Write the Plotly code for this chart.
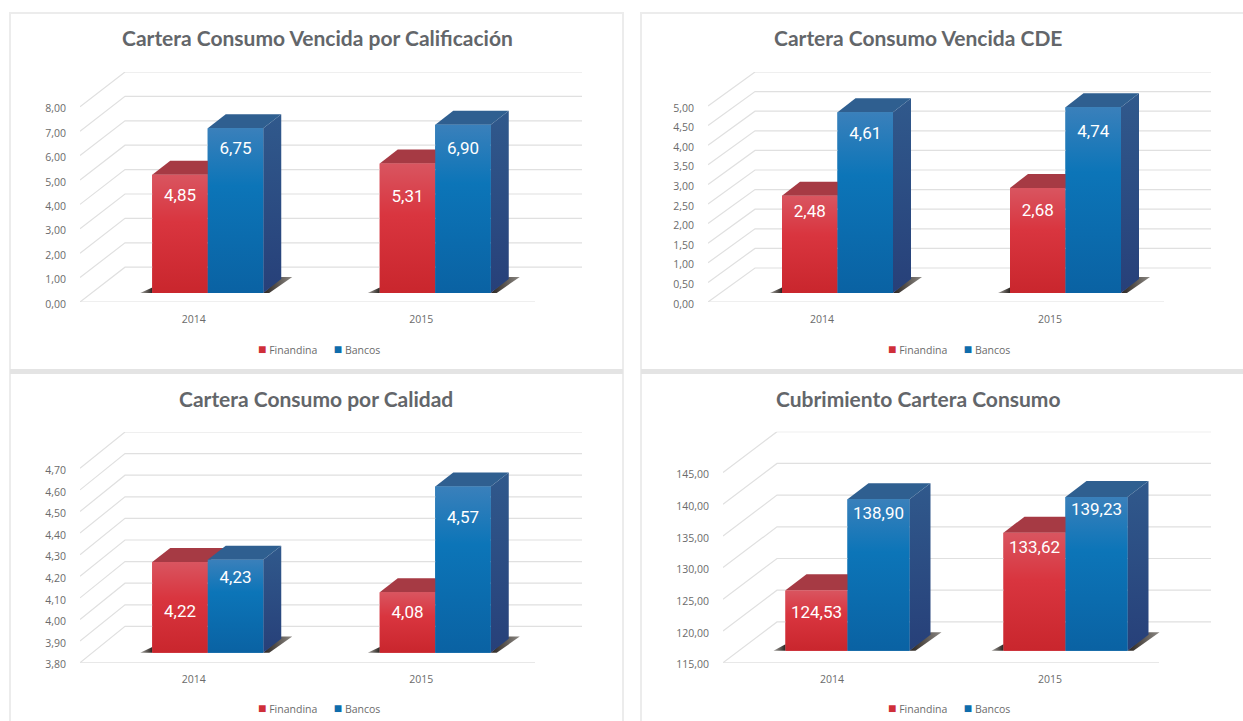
import plotly.graph_objects as go

W, H = 1243, 721

# ---- chart data ----
categories = ["2014", "2015"]
series_names = ["Finandina", "Bancos"]

titles = ["Cartera Consumo Vencida por Calificación", "Cartera Consumo Vencida CDE",
          "Cartera Consumo por Calidad", "Cubrimiento Cartera Consumo"]

finandina_calificacion = [4.85, 5.31]
bancos_calificacion = [6.75, 6.90]
finandina_cde = [2.48, 2.68]
bancos_cde = [4.61, 4.74]
finandina_calidad = [4.22, 4.08]
bancos_calidad = [4.23, 4.57]
finandina_cubrimiento = [124.53, 133.62]
bancos_cubrimiento = [138.90, 139.23]

ticks_calificacion = [0, 1, 2, 3, 4, 5, 6, 7, 8]
ticks_cde = [0, 0.5, 1, 1.5, 2, 2.5, 3, 3.5, 4, 4.5, 5]
ticks_calidad = [3.8, 3.9, 4.0, 4.1, 4.2, 4.3, 4.4, 4.5, 4.6, 4.7]
ticks_cubrimiento = [115, 120, 125, 130, 135, 140, 145]

# ---- layout / style (pixels of the page) ----
panels = [
    dict(fin=finandina_calificacion, ban=bancos_calificacion, ticks=ticks_calificacion,
         x0=80, x1=535, bx0=125, bx1=582, floor=302, top=72, px_per=24.4,
         base=9, bw=55.5, off=-41.5, dx=18, dy=14, title_x=317, title_y=38, legend_x=319, legend_y=348.5,
         lab=[[22, 34], [21, 25]]),
    dict(fin=finandina_cde, ban=bancos_cde, ticks=ticks_cde,
         x0=708, x1=1164, bx0=755, bx1=1211, floor=302, top=72, px_per=39.2,
         base=9, bw=55.5, off=-40, dx=18, dy=14, title_x=918, title_y=38, legend_x=949, legend_y=348.5,
         lab=[[17, 24], [22, 26]]),
    dict(fin=finandina_calidad, ban=bancos_calidad, ticks=ticks_calidad,
         x0=80, x1=535, bx0=125, bx1=582, floor=662.7, top=432, px_per=216.0,
         base=10, bw=55.5, off=-41.5, dx=18, dy=14, title_x=316, title_y=398, legend_x=319, legend_y=707.5,
         lab=[[51, 22], [19, 32]]),
    dict(fin=finandina_cubrimiento, ban=bancos_cubrimiento, ticks=ticks_cubrimiento,
         x0=723, x1=1159, bx0=777, bx1=1211, floor=662.7, top=431.7, px_per=6.34,
         base=12, bw=62, off=-46.5, dx=21, dy=16, title_x=918, title_y=398, legend_x=949, legend_y=707.5,
         lab=[[23, 16], [16, 14]]),
]

GRID = "#e0e0e0"
TEXT = "#6b6b6b"
TITLE = "#63666a"
FRAME = "#ececec"
DIVIDER = "#e4e4e4"
RED, BLUE = "#cf2e39", "#0f6cab"
RED_GRAD = [[0, "#c9262d"], [0.6, "#d9353f"], [1, "#d95560"]]
BLUE_GRAD = [[0, "#0a62a3"], [0.65, "#0c75b8"], [1, "#3a80bb"]]
RED_TOP, BLUE_TOP = "#a63a44", "#2f5f90"
SIDE_GRAD = [[0, "#274079"], [1, "#30598c"]]
SHADOW_GRAD = [[0, "#2a2420"], [1, "#8d8984"]]


def px_x(v):
    return v / W


def px_y(v):
    return 1 - v / H


fig = go.Figure()
shapes, annotations = [], []
layout_axes = {}


def poly(xs, ys, xa, ya, **kw):
    fig.add_trace(go.Scatter(x=list(xs) + [xs[0]], y=list(ys) + [ys[0]], mode="lines", fill="toself",
                             line=dict(width=0), xaxis=xa, yaxis=ya, hoverinfo="skip", showlegend=False, **kw))


def fmt(v):
    return f"{v:.2f}".replace(".", ",")


for i, p in enumerate(panels):
    sfx = "" if i == 0 else str(i + 1)
    xa, ya = "x" + sfx, "y" + sfx
    ymin = p["ticks"][0]
    u = (p["x1"] - p["x0"]) / len(categories)      # px per category
    s = p["px_per"]                                # px per value unit
    depth_y = (p["floor"] - (p["top"] + (p["ticks"][-1] - ymin) * s)) / s
    depth_x = (p["bx0"] - p["x0"]) / u
    xmin = -0.5
    xmax = xmin + (p["bx1"] - p["x0"]) / u
    ymax = p["ticks"][-1] + depth_y

    layout_axes["xaxis" + sfx] = dict(
        domain=[px_x(p["x0"]), px_x(p["bx1"])], range=[xmin, xmax], anchor=ya, automargin=False,
        tickmode="array", tickvals=list(range(len(categories))), ticktext=categories,
        showgrid=False, zeroline=False, showline=False, ticks="", ticklabelstandoff=9,
        tickfont=dict(family="Open Sans", size=10.5, color=TEXT), fixedrange=True)
    layout_axes["yaxis" + sfx] = dict(
        domain=[px_y(p["floor"]), px_y(p["top"])], range=[ymin, ymax], anchor=xa, automargin=False,
        tickmode="array", tickvals=p["ticks"], tickformat=".2f",
        showgrid=False, zeroline=False, showline=False, ticks="", ticklabelstandoff=13, ticklabelshift=2,
        tickfont=dict(family="Open Sans", size=10.5, color=TEXT), fixedrange=True)

    # walls and floor drawn from the tick values
    xb0 = xmin + depth_x
    gx, gy = [xmin, xmin + (p["x1"] - p["x0"]) / u, None], [ymin, ymin, None]
    for t in p["ticks"]:
        gx += [xmin, xb0, xmax, None]
        gy += [t, t + depth_y, t + depth_y, None]
    fig.add_trace(go.Scatter(x=gx, y=gy, mode="lines", line=dict(color=GRID, width=1.2), xaxis=xa, yaxis=ya,
                             hoverinfo="skip", showlegend=False))

    base_v = p["base"] / s
    bw = p["bw"] / u
    off = p["off"] / u
    ddx, ddy = p["dx"] / u, p["dy"] / s

    # real bars for the front faces
    for k, (name, vals, col) in enumerate(zip(series_names, (p["fin"], p["ban"]), (RED, BLUE))):
        fig.add_trace(go.Bar(x=list(range(len(categories))), y=[v - ymin for v in vals],
                             base=ymin + base_v, width=bw, offset=off + k * bw, name=name,
                             marker=dict(color=col, line=dict(width=0)), xaxis=xa, yaxis=ya,
                             hoverinfo="skip", showlegend=False))

    for c in range(len(categories)):
        left = c + off
        mid = left + bw
        right = mid + bw
        y0 = ymin + base_v
        r_top = p["fin"][c] + base_v
        b_top = p["ban"][c] + base_v
        # floor shadow
        poly([right, right + ddx, right + ddx + 11 / u, right + 6 / u],
             [y0, y0 + ddy * 1.15, y0 + ddy * 1.15, y0], xa, ya, fillcolor="#444",
             fillgradient=dict(type="horizontal", colorscale=SHADOW_GRAD))
        poly([left - 12 / u, left, left], [y0, y0, y0 + ddy * 0.4], xa, ya, fillcolor="#444",
             fillgradient=dict(type="horizontal", colorscale=[[0, "#a5a29e"], [1, "#2a2420"]]))
        # Finandina top, then front
        poly([left, mid, mid + ddx, left + ddx], [r_top, r_top, r_top + ddy, r_top + ddy], xa, ya,
             fillcolor=RED_TOP)
        poly([left, mid, mid, left], [y0, y0, r_top, r_top], xa, ya, fillcolor=RED,
             fillgradient=dict(type="vertical", colorscale=RED_GRAD))
        # Bancos side, top, front
        poly([right, right + ddx, right + ddx, right], [y0, y0 + ddy, b_top + ddy, b_top], xa, ya,
             fillcolor="#2b4d84", fillgradient=dict(type="vertical", colorscale=SIDE_GRAD))
        poly([mid, right, right + ddx, mid + ddx], [b_top, b_top, b_top + ddy, b_top + ddy], xa, ya,
             fillcolor=BLUE_TOP)
        poly([mid, right, right, mid], [y0, y0, b_top, b_top], xa, ya, fillcolor=BLUE,
             fillgradient=dict(type="vertical", colorscale=BLUE_GRAD))
        # value labels
        fig.add_trace(go.Scatter(
            x=[left + bw / 2, mid + bw / 2],
            y=[r_top - p["lab"][0][c] / s, b_top - p["lab"][1][c] / s],
            text=[fmt(p["fin"][c]), fmt(p["ban"][c])],
            mode="text", textposition="middle center",
            textfont=dict(family="Roboto", size=17, color="white"),
            xaxis=xa, yaxis=ya, hoverinfo="skip", showlegend=False))

    annotations.append(dict(text=f"<b>{titles[i]}</b>", x=px_x(p["title_x"]), y=px_y(p["title_y"]),
                            xref="paper", yref="paper", showarrow=False, xanchor="center", yanchor="middle",
                            font=dict(family="Lato", size=21, color=TITLE)))
    annotations.append(dict(
        text=f'<span style="color:{RED};font-size:14px">■</span> {series_names[0]}      '
             f'<span style="color:{BLUE};font-size:14px">■</span> {series_names[1]}',
        x=px_x(p["legend_x"]), y=px_y(p["legend_y"]), xref="paper", yref="paper", showarrow=False,
        xanchor="center", yanchor="middle", font=dict(family="Open Sans", size=10.5, color=TEXT)))

# panel frames
for (x0, y0, x1, y1) in [(10, 13, 623, 371), (641, 13, 1260, 371), (10, 371, 623, 740), (641, 371, 1260, 740)]:
    shapes.append(dict(type="rect", xref="paper", yref="paper", x0=px_x(x0), x1=px_x(x1), y0=px_y(y0), y1=px_y(y1),
                       line=dict(color=FRAME, width=2), layer="below"))
for (x0, x1) in [(10, 623), (641, 1243)]:
    shapes.append(dict(type="rect", xref="paper", yref="paper", x0=px_x(x0), x1=px_x(x1), y0=px_y(374), y1=px_y(369),
                       fillcolor=DIVIDER, line=dict(width=0), layer="below"))

fig.update_layout(
    width=W, height=H, margin=dict(l=0, r=0, t=0, b=0), autosize=False,
    paper_bgcolor="white", plot_bgcolor="rgba(0,0,0,0)", barmode="overlay", separators=",.",
    showlegend=False, shapes=shapes, annotations=annotations, **layout_axes)

fig.write_html("out.html", config={"displayModeBar": False},
               post_script="document.body.style.margin='0';document.body.style.overflow='hidden';")
